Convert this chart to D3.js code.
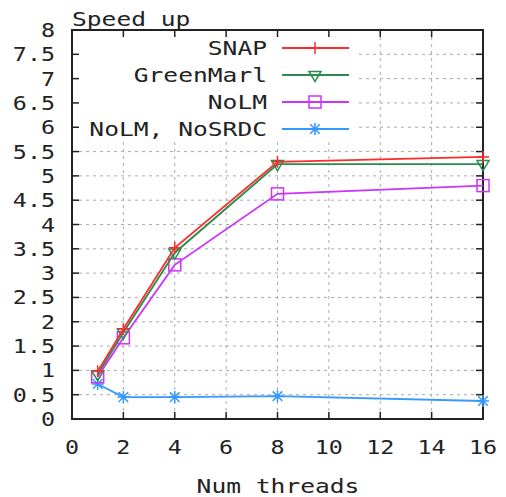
<!DOCTYPE html>
<html>
<head>
<meta charset="utf-8">
<script src="https://cdn.jsdelivr.net/npm/d3@7"></script>
<style>
  body { margin: 0; background: #fff; }
  text { font-family: "DejaVu Sans Mono", monospace; fill: #222; }
</style>
</head>
<body>
<svg id="chart" width="506" height="497"></svg>
<script>
// data
const threads = [1, 2, 4, 8, 16];
const snap = [0.98, 1.85, 3.52, 5.29, 5.39];
const greenMarl = [0.92, 1.78, 3.42, 5.24, 5.24];
const noLM = [0.87, 1.67, 3.17, 4.63, 4.80];
const noSRDC = [0.72, 0.45, 0.45, 0.47, 0.37];

const seriesNames = ["SNAP", "GreenMarl", "NoLM", "NoLM, NoSRDC"];
const seriesColors = ["#ff2a2a", "#2a8c4e", "#cc33ff", "#3399ff"];
const seriesShapes = ["plus", "tri", "square", "star"];
const xTicks = [0, 2, 4, 6, 8, 10, 12, 14, 16];
const yTicks = [0, 0.5, 1, 1.5, 2, 2.5, 3, 3.5, 4, 4.5, 5, 5.5, 6, 6.5, 7, 7.5, 8];

const series = [snap, greenMarl, noLM, noSRDC].map((vals, i) => ({
  name: seriesNames[i],
  color: seriesColors[i],
  shape: seriesShapes[i],
  points: vals.map((v, j) => ({ x: threads[j], y: v }))
}));

const plotL = 72, plotR = 483, plotT = 30, plotB = 419;
const svg = d3.select("#chart");

const x = d3.scaleLinear().domain([0, 16]).range([plotL, plotR]);
const y = d3.scaleLinear().domain([0, 8]).range([plotB, plotT]);

// the original font is wide, so stretch the text sideways
const stretch = 1.23;
function label(px, py, str, size, anchor) {
  return svg.append("g").attr("transform", `translate(${px},${py}) scale(${stretch},1)`)
    .append("text").attr("font-size", size).attr("text-anchor", anchor || "start").text(str);
}

// grid (dashed)
const grid = svg.append("g").attr("stroke", "#aaa").attr("stroke-width", 1)
  .attr("stroke-dasharray", "3,4");
grid.selectAll("line.v").data(xTicks.slice(1, -1)).enter().append("line")
  .attr("x1", d => x(d)).attr("x2", d => x(d))
  .attr("y1", plotT).attr("y2", plotB);
grid.selectAll("line.h").data(yTicks.slice(1, -1)).enter().append("line")
  .attr("x1", plotL).attr("x2", plotR)
  .attr("y1", d => y(d)).attr("y2", d => y(d));

// legend box covers grid
svg.append("rect").attr("x", plotL + 1).attr("y", plotT + 1)
  .attr("width", 286).attr("height", 111).attr("fill", "#fff");

// ticks on all four sides, pointing in
const tickLen = 7;
const ticks = svg.append("g").attr("stroke", "#222").attr("stroke-width", 1.5);
xTicks.forEach(t => {
  ticks.append("line").attr("x1", x(t)).attr("x2", x(t)).attr("y1", plotB).attr("y2", plotB - tickLen);
  ticks.append("line").attr("x1", x(t)).attr("x2", x(t)).attr("y1", plotT).attr("y2", plotT + tickLen);
});
yTicks.forEach(t => {
  ticks.append("line").attr("x1", plotL).attr("x2", plotL + tickLen).attr("y1", y(t)).attr("y2", y(t));
  ticks.append("line").attr("x1", plotR).attr("x2", plotR - tickLen).attr("y1", y(t)).attr("y2", y(t));
});

// frame
svg.append("rect").attr("x", plotL).attr("y", plotT)
  .attr("width", plotR - plotL).attr("height", plotB - plotT)
  .attr("fill", "none").attr("stroke", "#222").attr("stroke-width", 2);

// tick labels
yTicks.forEach(t => label(55, y(t) + 7, t, 19, "end"));
xTicks.forEach(t => label(x(t), 454, t, 19, "middle"));

label(72, 26, "Speed up", 20);
label(278, 493, "Num threads", 20, "middle");

function drawMarker(g, shape, color) {
  const s = 6;
  if (shape === "plus") {
    g.append("path").attr("d", `M0,${-s}V${s}M${-s},0H${s}`).attr("stroke", color).attr("stroke-width", 1.5);
  } else if (shape === "tri") {
    g.append("path").attr("d", `M${-s},${-s * 0.6}H${s}L0,${s * 1.1}Z`)
      .attr("fill", "none").attr("stroke", color).attr("stroke-width", 1.5);
  } else if (shape === "square") {
    g.append("rect").attr("x", -s).attr("y", -s).attr("width", 2 * s).attr("height", 2 * s)
      .attr("fill", "none").attr("stroke", color).attr("stroke-width", 1.5);
  } else {
    g.append("path").attr("d", `M${-s},0H${s}M0,${-s}V${s}M${-s * 0.8},${-s * 0.8}L${s * 0.8},${s * 0.8}M${-s * 0.8},${s * 0.8}L${s * 0.8},${-s * 0.8}`)
      .attr("stroke", color).attr("stroke-width", 1.5);
  }
}

const line = d3.line().x(d => x(d.x)).y(d => y(d.y));

// draw in reverse so SNAP sits on top
series.slice().reverse().forEach(s => {
  svg.append("path").datum(s.points).attr("d", line)
    .attr("fill", "none").attr("stroke", s.color).attr("stroke-width", 1.8);
  s.points.forEach(p => {
    drawMarker(svg.append("g").attr("transform", `translate(${x(p.x)},${y(p.y)})`), s.shape, s.color);
  });
});

// legend
series.forEach((s, i) => {
  const ly = 48 + i * 27;
  label(267, ly + 7, s.name, 20, "end");
  svg.append("line").attr("x1", 282).attr("x2", 349).attr("y1", ly).attr("y2", ly)
    .attr("stroke", s.color).attr("stroke-width", 1.8);
  drawMarker(svg.append("g").attr("transform", `translate(315,${ly})`), s.shape, s.color);
});
</script>
</body>
</html>
